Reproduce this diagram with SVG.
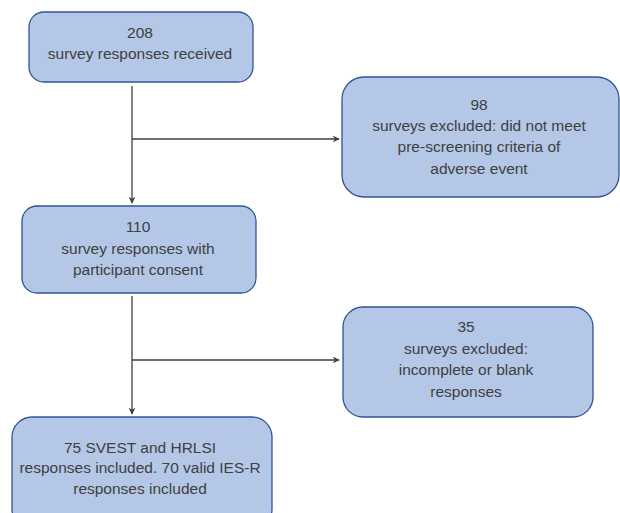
<svg xmlns="http://www.w3.org/2000/svg" width="620" height="513" viewBox="0 0 620 513">
<defs>
<style>
.box{fill:#b4c7e7;stroke:#2f5597;stroke-width:1.3}
.t{font-family:"Liberation Sans",Arial,sans-serif;font-size:15.5px;fill:#404040;text-anchor:middle}
.c{stroke:#404040;stroke-width:1.3;fill:none}
</style>
<marker id="ah" viewBox="0 0 10 10" refX="9" refY="5" markerWidth="7" markerHeight="7" markerUnits="userSpaceOnUse" orient="auto">
<path d="M0,0 L10,5 L0,10 L3,5 Z" fill="#404040"/>
</marker>
</defs>
<g id="connectors">
<line class="c" x1="132" y1="86" x2="132" y2="203" marker-end="url(#ah)"/>
<line class="c" x1="132" y1="139" x2="339" y2="139" marker-end="url(#ah)"/>
<line class="c" x1="132" y1="296" x2="132" y2="414" marker-end="url(#ah)"/>
<line class="c" x1="132" y1="360" x2="339" y2="360" marker-end="url(#ah)"/>
</g>
<g id="n1">
<rect class="box" x="29" y="12" width="224" height="70" rx="15"/>
<text class="t" x="140" y="38">208</text>
<text class="t" x="140" y="59">survey responses received</text>
</g>
<g id="n2">
<rect class="box" x="342" y="77" width="277" height="120" rx="22"/>
<text class="t" x="479" y="110">98</text>
<text class="t" x="479" y="131">surveys excluded: did not meet</text>
<text class="t" x="479" y="152">pre-screening criteria of</text>
<text class="t" x="479" y="174">adverse event</text>
</g>
<g id="n3">
<rect class="box" x="22" y="206" width="234" height="87" rx="15"/>
<text class="t" x="138" y="232">110</text>
<text class="t" x="138" y="254">survey responses with</text>
<text class="t" x="138" y="275">participant consent</text>
</g>
<g id="n4">
<rect class="box" x="343" y="307" width="250" height="110" rx="20"/>
<text class="t" x="466" y="332">35</text>
<text class="t" x="466" y="354">surveys excluded:</text>
<text class="t" x="466" y="375">incomplete or blank</text>
<text class="t" x="466" y="397">responses</text>
</g>
<g id="n5">
<rect class="box" x="12" y="417" width="260" height="112" rx="20"/>
<text class="t" x="140" y="453">75 SVEST and HRLSI</text>
<text class="t" x="140" y="473">responses included. 70 valid IES-R</text>
<text class="t" x="140" y="494">responses included</text>
</g>
</svg>
